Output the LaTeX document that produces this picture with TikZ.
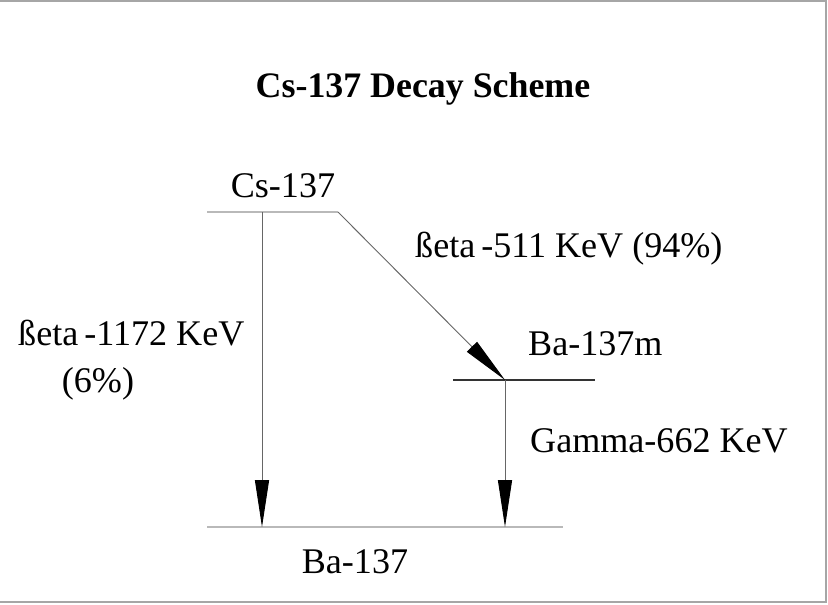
\documentclass[tikz,border=0pt]{standalone}
\usepackage{fontspec}
\setmainfont{Liberation Serif}
\usepackage{tikz}
\usetikzlibrary{arrows.meta}

\tikzset{
  level/.style={gray!55,line width=0.9pt},
  decay/.style={gray!80!black,line width=0.8pt,-{Triangle[length=40pt,width=12pt,black]}},
  lbl/.style={inner sep=0pt,font=\fontsize{30.8}{35}\selectfont}
}

\begin{document}
\begin{tikzpicture}[x=0.03cm,y=-0.03cm]
\useasboundingbox (0,0) rectangle (828,604);
\draw[gray!70,line width=0.9pt] (0,1) -- (826,1) -- (826,602) -- (0,602);

\node[lbl,anchor=base,font=\fontsize{30.6}{35}\selectfont\bfseries] (title) at (423,97) {Cs-137 Decay Scheme};

% levels
\coordinate (csL) at (207,212);\coordinate (csR) at (338,212);
\coordinate (cs) at (262,212);
\coordinate (bamL) at (453,380);\coordinate (bamR) at (595,380);
\coordinate (bam) at (505,380);
\coordinate (baL) at (207,527);\coordinate (baR) at (563,527);
\coordinate (ba1) at (262,527);\coordinate (ba2) at (505,527);
\draw[level] (csL) -- (csR);
\draw[level,gray!40!black] (bamL) -- (bamR);
\draw[level] (baL) -- (baR);

\node[lbl,anchor=base] (cslbl) at (283,197) {Cs-137};
\node[lbl,anchor=base west] (bamlbl) at (528,355) {Ba-137m};
\node[lbl,anchor=base] (balbl) at (355,573) {Ba-137};

% transitions
\draw[decay] (csR) -- (bam);
\draw[decay] (cs) -- (ba1);
\draw[decay] (bam) -- (ba2);

\node[lbl,anchor=base west] (b1) at (415,257) {ßeta\,-511 KeV (94\%)};
\node[lbl,anchor=base west] (b2) at (18,345) {ßeta\,-1172 KeV};
\node[lbl,anchor=base] (b2p) at (98,392) {(6\%)};
\node[lbl,anchor=base west] (g) at (530,452) {Gamma-662 KeV};
\end{tikzpicture}
\end{document}
